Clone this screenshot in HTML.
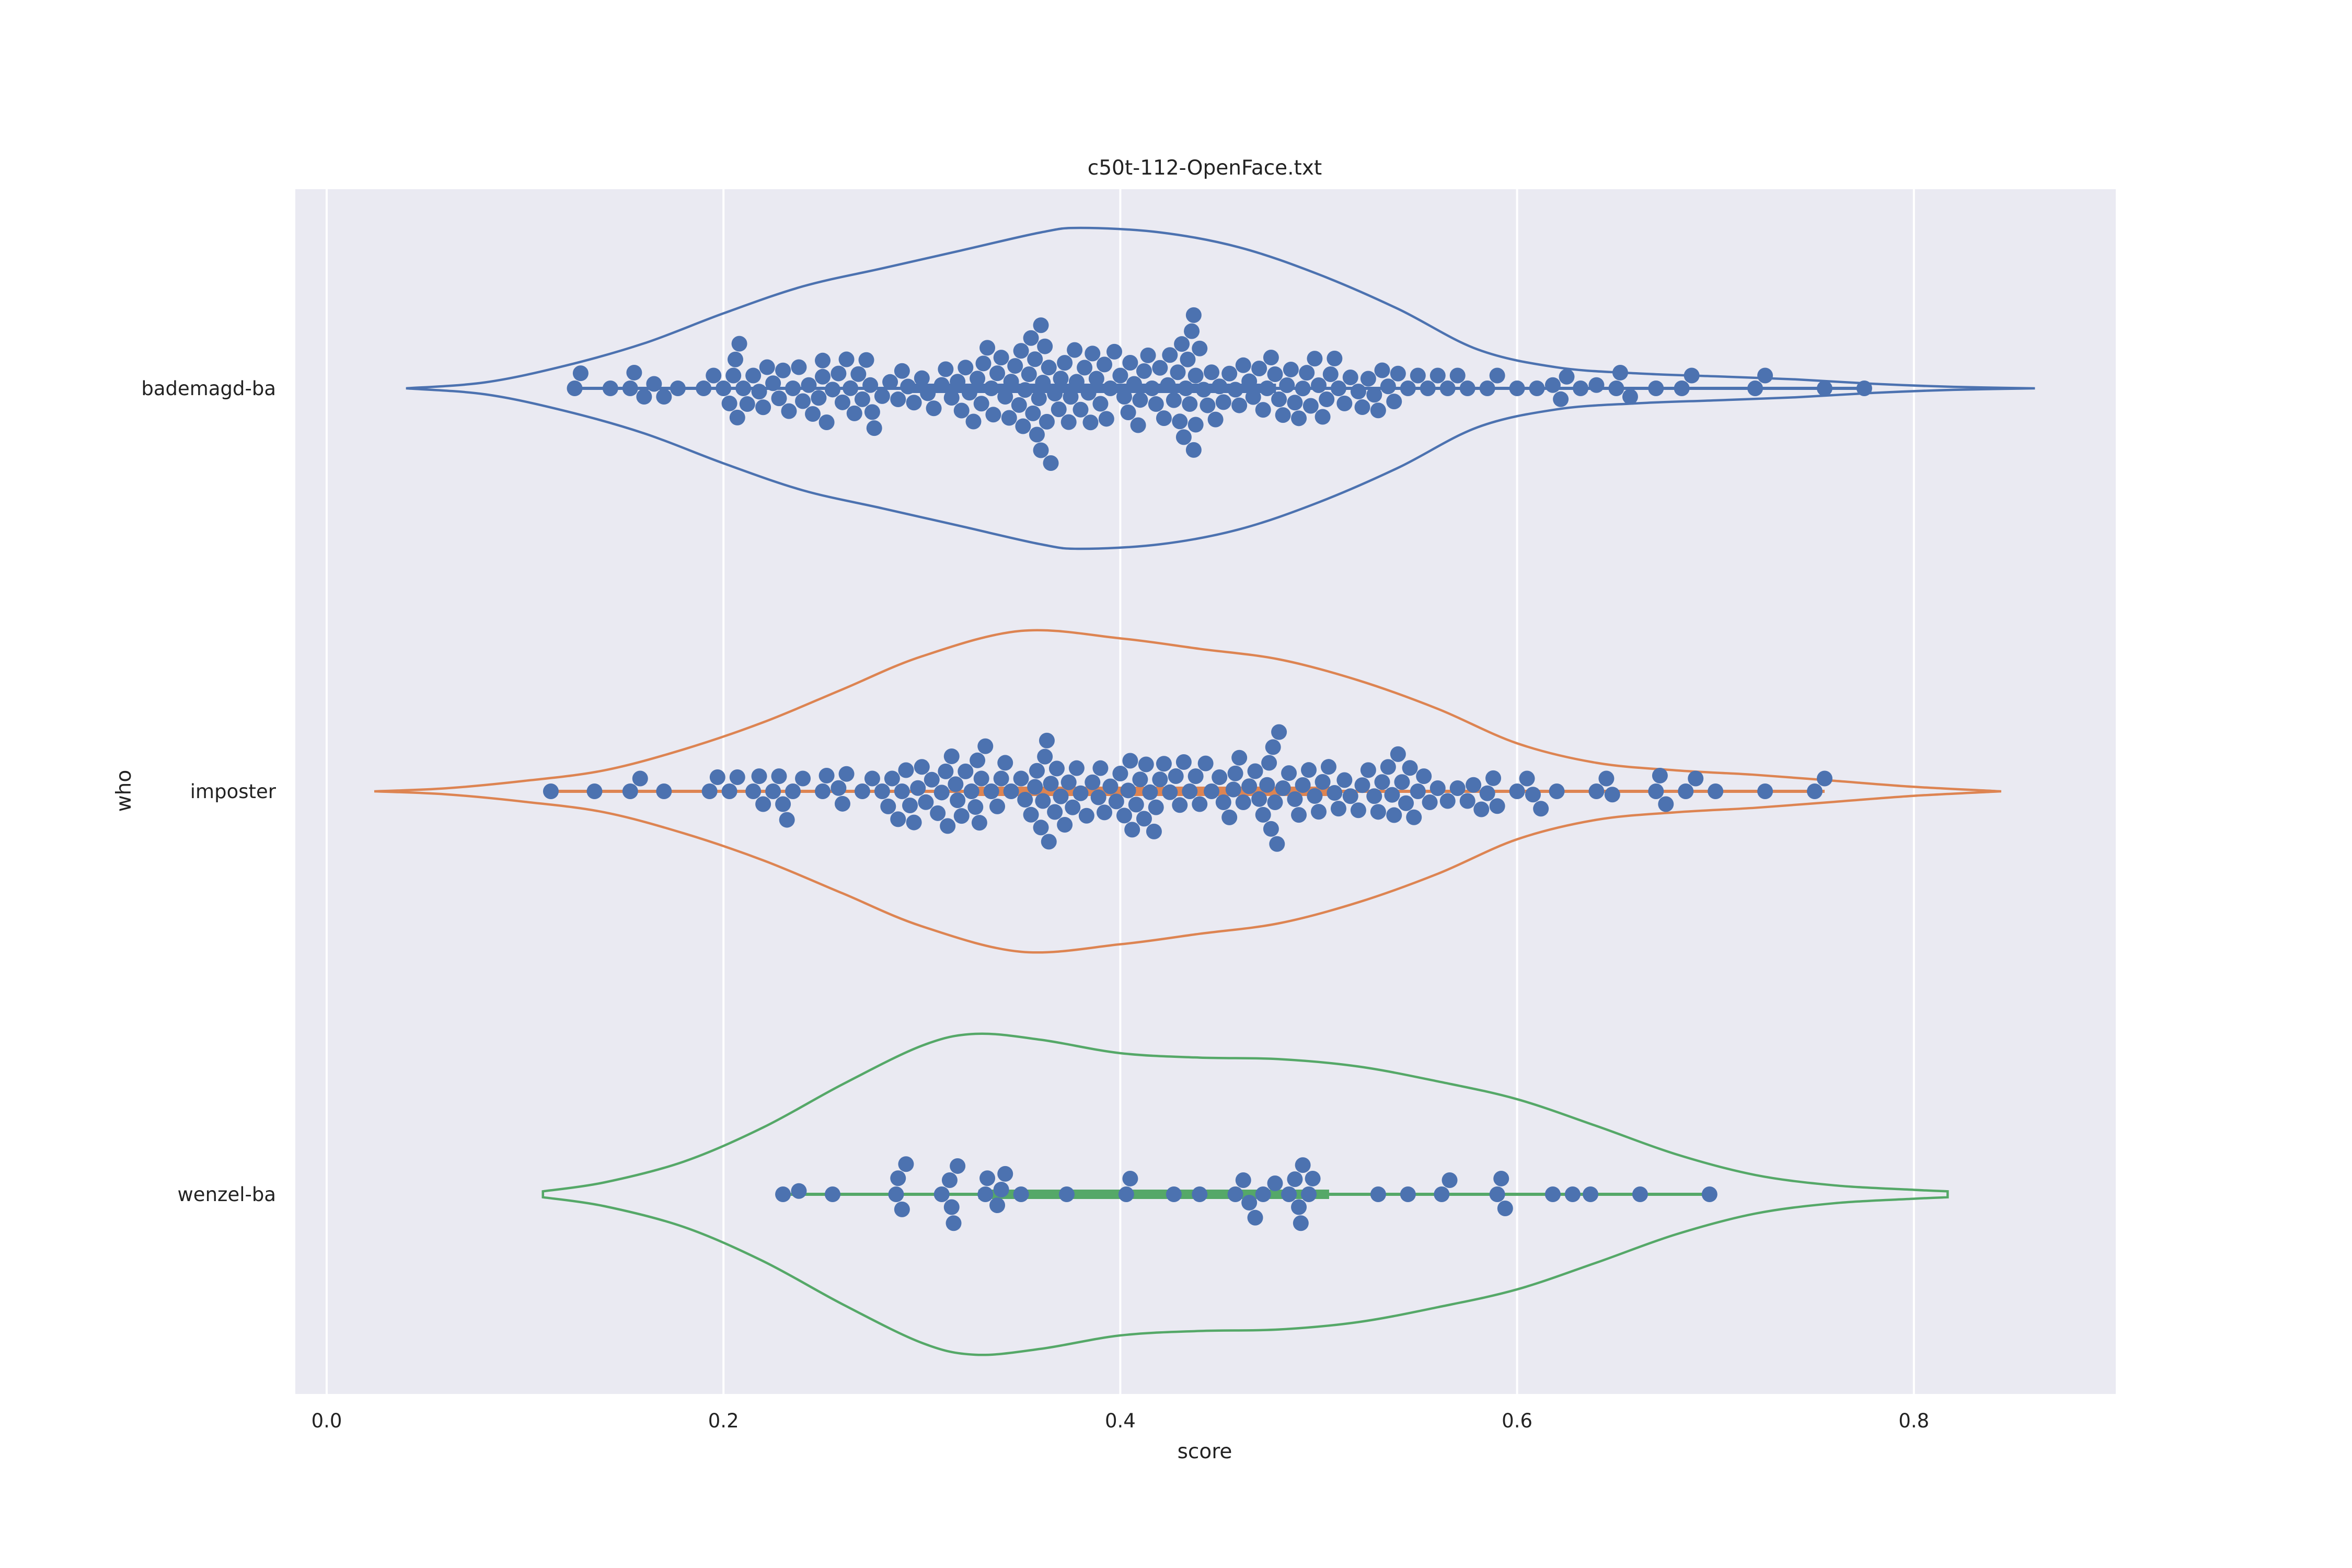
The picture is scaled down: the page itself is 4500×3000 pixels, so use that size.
<!DOCTYPE html>
<html><head><meta charset="utf-8"><style>
html,body{margin:0;padding:0;background:#fff;}
svg{display:block;font-family:"DejaVu Sans","Liberation Sans",sans-serif;}
</style></head><body>
<svg id="chart" width="4500" height="3000" viewBox="0 0 4500 3000">
<rect x="565" y="362" width="3483" height="2305" fill="#eaeaf2"/>
<g id="grid"></g><g id="violins"></g><g id="points"></g><g id="axes"></g>
<text x="2305" y="334" font-size="39" text-anchor="middle" fill="#222">c50t-112-OpenFace.txt</text>
<text x="2305" y="2790" font-size="39" text-anchor="middle" fill="#222">score</text>
<text x="0" y="0" font-size="39" text-anchor="middle" fill="#222" transform="translate(250,1513) rotate(-90)">who</text>
</svg>
<script>
const categories = ["bademagd-ba","imposter","wenzel-ba"];
const xTicks = [0.0,0.2,0.4,0.6,0.8];
const xTickLabels = ["0.0","0.2","0.4","0.6","0.8"];
const colors = ["#4c72b0","#dd8452","#55a868"];
const kdeX0 = [0.04,0.08,0.12,0.16,0.2,0.24,0.28,0.32,0.36,0.38,0.42,0.46,0.5,0.54,0.58,0.62,0.66,0.70,0.74,0.78,0.82,0.861];
const kdeW0 = [0,4,15,30,50,68,80,92,104,107,104,94,76,53,26,14,10,8,6,3,1,0];
const kdeX1 = [0.024,0.06,0.1,0.14,0.18,0.22,0.26,0.30,0.35,0.40,0.44,0.48,0.52,0.56,0.60,0.64,0.68,0.72,0.76,0.80,0.844];
const kdeW1 = [0,2,7,14,28,46,68,90,107,102,95,88,74,55,32,19,14,11,7,3,0];
const kdeX2 = [0.109,0.14,0.18,0.22,0.26,0.30,0.327,0.36,0.40,0.44,0.48,0.52,0.56,0.60,0.64,0.68,0.72,0.76,0.80,0.817];
const kdeW2 = [2,8,22,45,74,100,108,104,95,92,91,86,76,64,46,27,13,6,3,2];
const scores0 = [0.125,0.128,0.143,0.153,0.155,0.16,0.165,0.17,0.177,0.19,0.195,0.2,0.203,0.205,0.206,0.207,0.208,0.21,0.212,0.215,0.218,0.22,0.222,0.225,0.228,0.23,0.233,0.235,0.238,0.24,0.243,0.245,0.248,0.25,0.25,0.252,0.255,0.258,0.26,0.262,0.264,0.266,0.268,0.27,0.272,0.274,0.275,0.276,0.28,0.284,0.288,0.29,0.293,0.296,0.3,0.303,0.306,0.31,0.312,0.315,0.318,0.32,0.322,0.324,0.326,0.328,0.33,0.331,0.333,0.335,0.336,0.338,0.34,0.342,0.344,0.345,0.347,0.349,0.35,0.351,0.352,0.354,0.355,0.356,0.357,0.358,0.359,0.36,0.36,0.361,0.362,0.363,0.364,0.365,0.367,0.369,0.37,0.372,0.374,0.375,0.377,0.378,0.38,0.382,0.384,0.385,0.386,0.388,0.39,0.392,0.393,0.395,0.397,0.4,0.402,0.404,0.405,0.407,0.409,0.41,0.412,0.414,0.416,0.418,0.42,0.422,0.424,0.425,0.427,0.429,0.43,0.431,0.432,0.433,0.434,0.435,0.436,0.437,0.437,0.438,0.438,0.44,0.442,0.444,0.446,0.448,0.45,0.452,0.455,0.458,0.46,0.462,0.465,0.467,0.47,0.472,0.474,0.476,0.478,0.48,0.482,0.484,0.486,0.488,0.49,0.492,0.494,0.496,0.498,0.5,0.502,0.504,0.506,0.508,0.51,0.513,0.516,0.52,0.522,0.525,0.528,0.53,0.532,0.535,0.538,0.54,0.545,0.55,0.555,0.56,0.565,0.57,0.575,0.585,0.59,0.6,0.61,0.618,0.622,0.625,0.632,0.64,0.65,0.652,0.657,0.67,0.683,0.688,0.72,0.725,0.755,0.775];
const scores1 = [0.113,0.135,0.153,0.158,0.17,0.193,0.197,0.203,0.207,0.215,0.218,0.22,0.225,0.228,0.23,0.232,0.235,0.24,0.25,0.252,0.258,0.26,0.262,0.27,0.275,0.28,0.283,0.285,0.288,0.29,0.292,0.294,0.296,0.298,0.3,0.302,0.305,0.308,0.31,0.312,0.313,0.315,0.317,0.318,0.32,0.322,0.325,0.327,0.328,0.329,0.33,0.332,0.335,0.338,0.34,0.342,0.345,0.35,0.352,0.355,0.357,0.358,0.36,0.361,0.362,0.363,0.364,0.365,0.367,0.368,0.37,0.372,0.374,0.376,0.378,0.38,0.383,0.386,0.389,0.39,0.392,0.395,0.398,0.4,0.402,0.404,0.405,0.406,0.408,0.41,0.412,0.413,0.415,0.417,0.418,0.42,0.422,0.425,0.428,0.43,0.432,0.435,0.438,0.44,0.443,0.446,0.45,0.452,0.455,0.457,0.458,0.46,0.462,0.465,0.468,0.47,0.472,0.474,0.475,0.476,0.477,0.478,0.479,0.48,0.482,0.485,0.488,0.49,0.492,0.495,0.498,0.5,0.502,0.505,0.508,0.51,0.513,0.516,0.52,0.522,0.525,0.528,0.53,0.532,0.535,0.537,0.538,0.54,0.542,0.544,0.546,0.548,0.55,0.553,0.556,0.56,0.565,0.57,0.575,0.578,0.582,0.585,0.588,0.59,0.6,0.605,0.608,0.612,0.62,0.64,0.645,0.648,0.67,0.672,0.675,0.685,0.69,0.7,0.725,0.75,0.755];
const scores2 = [0.23,0.238,0.255,0.287,0.288,0.29,0.292,0.31,0.314,0.315,0.316,0.318,0.332,0.333,0.338,0.34,0.342,0.35,0.373,0.403,0.405,0.427,0.44,0.458,0.462,0.465,0.468,0.472,0.478,0.485,0.488,0.49,0.491,0.492,0.495,0.497,0.53,0.545,0.562,0.566,0.59,0.592,0.594,0.618,0.628,0.637,0.662,0.697];

const NS="http://www.w3.org/2000/svg";
const X0=625, XU=3796, CY0=743, CSTEP=771, HW=307;
const xs = v => X0 + v*XU;
const ys = i => CY0 + i*CSTEP;
function mk(tag, attrs, parent){const e=document.createElementNS(NS,tag);for(const k in attrs)e.setAttribute(k,attrs[k]);parent.appendChild(e);return e;}
const grid=document.getElementById('grid'), vg=document.getElementById('violins'), pg=document.getElementById('points'), ax=document.getElementById('axes');
xTicks.forEach((t,i)=>{
  const l=mk('line',{x1:xs(t),x2:xs(t),y1:362,y2:2667,stroke:'#fff','stroke-width':4},grid);
  
  
  const tx=mk('text',{x:xs(t),y:2731,'font-size':37,'text-anchor':'middle',fill:'#222'},ax);
  tx.textContent=xTickLabels[i];
  
  
});
categories.forEach((c,i)=>{
  const tx=mk('text',{x:528,y:ys(i)+13,'font-size':37,'text-anchor':'end',fill:'#222'},ax);
  tx.textContent=c;
  
  
});
function smooth(pts){
  let d='M'+pts[0][0]+','+pts[0][1];
  for(let i=0;i<pts.length-1;i++){
    const p0=pts[Math.max(0,i-1)],p1=pts[i],p2=pts[i+1],p3=pts[Math.min(pts.length-1,i+2)];
    const c1=[p1[0]+(p2[0]-p0[0])/6,p1[1]+(p2[1]-p0[1])/6],c2=[p2[0]-(p3[0]-p1[0])/6,p2[1]-(p3[1]-p1[1])/6];
    d+=' C'+c1[0]+','+c1[1]+' '+c2[0]+','+c2[1]+' '+p2[0]+','+p2[1];
  }
  return d;
}
const kX=[kdeX0,kdeX1,kdeX2], kW=[kdeW0,kdeW1,kdeW2], S=[scores0,scores1,scores2];
function q(a,p){const s=[...a].sort((x,y)=>x-y);const pos=(s.length-1)*p;const lo=Math.floor(pos);return s[lo]+(s[Math.min(lo+1,s.length-1)]-s[lo])*(pos-lo);}
categories.forEach((c,i)=>{
  const cy=ys(i), mx=Math.max(...kW[i]);
  const top=kX[i].map((v,j)=>[xs(v),cy-kW[i][j]/mx*HW]);
  const bot=kX[i].map((v,j)=>[xs(v),cy+kW[i][j]/mx*HW]).reverse();
  let d=smooth(top)+' L'+bot[0][0]+','+bot[0][1]+smooth(bot).replace(/^M[^ ]+/,'')+' Z';
  const p=mk('path',{d:d,fill:'none',stroke:colors[i],'stroke-width':4.5},vg);
  
  
  const a=S[i];
  const wl=mk('line',{x1:xs(Math.min(...a)),x2:xs(Math.max(...a)),y1:cy,y2:cy,stroke:colors[i],'stroke-width':6},vg);
  
  
  const bl=mk('line',{x1:xs(q(a,0.25)),x2:xs(q(a,0.75)),y1:cy,y2:cy,stroke:colors[i],'stroke-width':18},vg);
  
  
  const R=15, D=2*R+1;
  const placed=[];
  [...a].sort((x,y)=>x-y).forEach(v=>{
    const px=xs(v);
    const near=placed.filter(o=>Math.abs(o[0]-px)<D);
    const cands=[0];
    near.forEach(o=>{const dy=Math.sqrt(D*D-(o[0]-px)**2);cands.push(o[1]+dy,o[1]-dy);});
    cands.sort((m,n)=>Math.abs(m)-Math.abs(n)||m-n);
    let off=0;
    for(const cnd of cands){if(near.every(o=>(o[0]-px)**2+(o[1]-cnd)**2>=D*D-0.5)){off=cnd;break;}}
    placed.push([px,off]);
    const dot=mk('circle',{cx:px,cy:cy+off,r:R,fill:'#4c72b0'},pg);
    
    
  });
});
</script>
</body></html>
